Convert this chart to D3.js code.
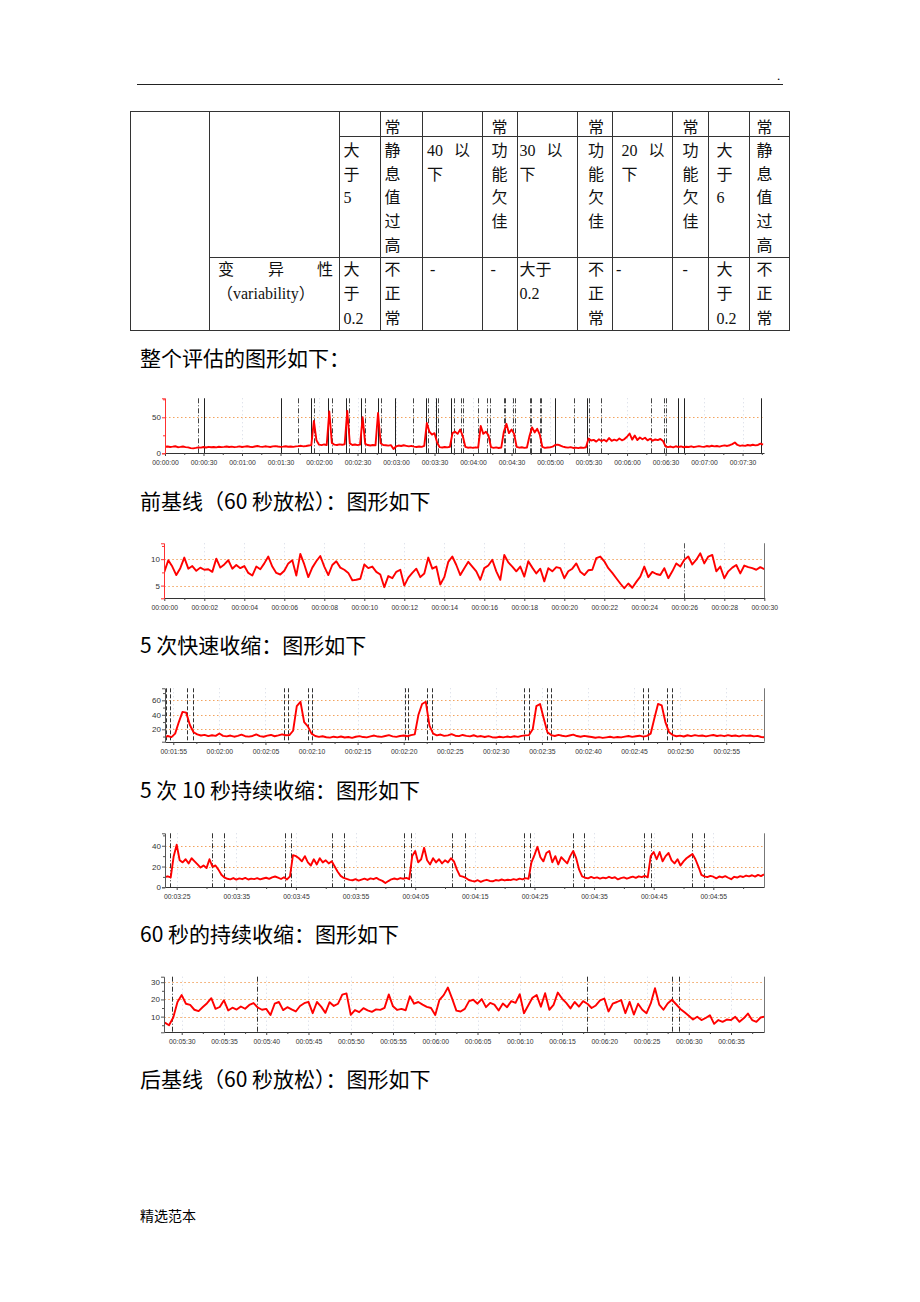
<!DOCTYPE html>
<html><head><meta charset="utf-8">
<script src="https://cdn.jsdelivr.net/npm/d3@7"></script>
<style>html,body{margin:0;padding:0;background:#fff}svg{display:block}</style>
</head><body>
<svg id="page" width="920" height="1302"></svg>
<script>
// ===================== DATA =====================
// Table content
const row1Cells = [[3,["常"]],[5,["常"]],[7,["常"]],[9,["常"]],[11,["常"]]];
const row2Cells = [[2,["大","于","5"]],[3,["静","息","值","过","高"]],[4,["40|以","下"]],[5,["功","能","欠","佳"]],
  [6,["30|以","下"]],[7,["功","能","欠","佳"]],[8,["20|以","下"]],[9,["功","能","欠","佳"]],[10,["大","于","6"]],[11,["静","息","值","过","高"]]];
const row3Cells = [[2,["大","于","0.2"]],[3,["不","正","常"]],[4,["-"]],[5,["-"]],[6,["大于","0.2"]],[7,["不","正","常"]],
  [8,["-"]],[9,["-"]],[10,["大","于","0.2"]],[11,["不","正","常"]]];
const headings = ["整个评估的图形如下：","前基线（60 秒放松）：图形如下","5 次快速收缩：图形如下","5 次 10 秒持续收缩：图形如下","60 秒的持续收缩：图形如下","后基线（60 秒放松）：图形如下"];

// Chart 1: whole assessment (seconds from 0, every 2 s)
const wholeStart = 0, wholeStep = 2;
const wholeValues = [
 9,9.5,8.8,9.2,9.8,8.5,8.9,9.4,8.6,8.2,
 7.2,6.8,7.5,8.3,7.9,8.8,8.1,9.0,8.4,8.7,
 8.2,9.1,8.6,8.9,9.4,8.7,9.2,8.5,9.0,9.6,
 8.8,9.3,9.8,9.1,8.6,9.5,10.1,9.2,8.9,9.7,
 9.3,8.8,9.6,10.0,9.4,8.9,9.2,9.8,9.1,9.5,
 9.0,9.6,9.9,10.4,9.7,10.2,10.8,11.3,45,18,
 12.0,11.4,12.3,11.6,58,14.5,12.0,11.5,12.4,11.8,
 12.6,59,13.8,11.6,12.2,11.4,12.0,50,13.2,11.5,
 10.8,11.6,11.0,56,14.0,11.5,11.2,10.6,11.4,6.0,
 9.5,10.8,10.1,11.2,10.4,9.6,10.3,9.2,8.7,9.4,
 9.0,10.2,42,30,26,28,15,8.5,8.0,8.8,
 8.3,9.1,28,30,27,33,24,9.0,7.8,8.2,
 7.5,8.3,7.9,38,27,30,25,8.5,7.6,8.2,
 7.4,8.0,30,41,28,33,27,9.0,7.8,8.4,
 7.6,8.1,24,36,29,34,26,8.8,7.5,8.0,
 8.3,9.2,11.5,12.0,10.8,9.3,8.4,7.9,8.6,7.4,
 7.9,7.2,8.1,7.6,8.4,20.5,17.8,18.6,16.2,19.4,
 17.0,18.8,16.5,21.2,17.4,18.9,17.6,20.5,18.1,19.8,
 23.0,27.5,19.0,24.6,18.4,22.0,19.5,21.6,18.0,20.2,
 17.5,19.2,18.3,20.0,17.2,9.5,8.6,9.4,8.2,9.8,
 8.7,9.5,8.4,9.1,8.8,9.7,8.5,9.3,10.0,9.2,
 8.9,10.1,9.4,10.5,9.6,10.2,9.3,10.4,11.0,10.2,
 11.2,12.8,15.0,11.6,10.4,11.0,10.3,11.5,10.8,11.9,
 11.0,11.6,13.5,12.0];
const wholeTickSeconds = [0,30,60,90,120,150,180,210,240,270,300,330,360,390,420,450];
const wholeYLabels = [0,50];
const wholeSolidMarks = [30,90,114,127,141,153,166,179,203,211,223,304,329,400,404,464];
const wholeDashMarks = [26,104,116,130,143,156,168,193,205,213,225,231,232,244,251,253,264,265,271,273,284,285,292,293,319,330,340,379,389,390];

// Chart 2: pre-baseline (every 0.2 s)
const preStart = 0, preStep = 0.2;
const preValues = [
 7.6,9.8,8.6,7.0,8.3,10.3,8.2,8.7,7.8,8.4,8.0,
 8.1,7.6,10.1,8.4,9.0,9.8,8.2,8.9,8.3,8.7,
 7.4,6.9,8.6,8.1,9.2,10.5,8.6,7.4,7.1,7.8,
 9.2,9.8,6.9,11.0,9.0,6.6,8.4,9.6,10.6,8.6,
 7.0,8.9,9.6,8.4,8.0,7.4,6.0,6.1,6.3,9.0,
 8.3,8.6,7.6,7.1,4.7,6.8,6.4,7.6,8.0,5.0,
 6.5,7.4,8.2,6.6,7.3,10.3,8.2,8.6,5.2,6.6,
 9.5,10.5,8.9,7.0,8.3,9.5,8.6,7.7,6.1,8.3,
 8.8,9.9,7.7,6.1,10.8,9.4,8.6,7.7,8.6,6.7,
 9.6,8.4,7.3,8.2,5.8,8.3,7.7,8.5,8.3,6.4,
 7.7,8.2,9.2,7.6,7.0,7.9,8.0,10.2,10.5,9.6,
 8.3,7.4,6.4,5.4,4.5,5.4,4.6,5.7,6.7,8.6,
 6.6,7.6,7.2,7.0,8.3,6.4,7.7,9.2,8.6,9.9,
 10.5,9.0,9.9,11.1,9.2,10.5,10.8,7.7,8.6,6.4,
 7.7,8.4,8.9,7.3,8.8,8.5,8.3,8.0,8.5,8.1];
const preTickSeconds = [0,2,4,6,8,10,12,14,16,18,20,22,24,26,28,30];
const preYLabels = [5,10];
const preDashMarks = [26];

// Chart 3: 5 quick contractions (from 114 s, every 0.4 s)
const quickStart = 114, quickStep = 0.4;
const quickValues = [
 8.5,10.8,9.2,14,30,44,43,26,16,13,
 11.5,12.3,10.6,11.8,10.9,14.2,11.0,10.2,11.4,9.8,
 10.9,12.6,10.5,9.9,10.8,12.9,10.6,9.7,11.3,12.2,
 10.4,11.6,13.1,11.8,12.0,18,52,58,30,24,
 14,10.8,9.6,10.4,9.1,8.5,9.8,8.9,10.1,8.7,
 9.4,8.2,9.7,10.6,9.3,8.8,10.2,11.4,10.0,9.5,
 10.7,11.9,10.3,9.6,10.8,11.5,10.4,12.0,13,40,
 55,58,25,14,11.7,12.8,10.9,11.6,13.4,11.2,
 10.6,12.2,11.0,10.3,11.8,9.9,10.7,9.4,10.5,9.1,
 8.6,9.8,8.9,10.0,9.2,10.4,9.6,10.9,11.6,12,
 20,52,55,35,16,12,10.8,12.3,11.1,10.2,
 11.5,12.6,10.7,9.8,11.0,10.1,9.3,8.4,9.2,8.1,
 8.9,9.7,8.6,9.4,8.8,9.9,10.8,9.6,10.5,11.2,
 9.9,11.0,14,35,55,53,30,16,12,10.4,
 11.2,10.1,11.8,10.6,12.0,10.9,11.5,10.2,11.3,12.1,
 10.8,11.6,10.5,11.9,10.7,11.4,10.3,11.7,10.9,11.5,
 10.2,11.0,9.4,8.8];
const quickTickSeconds = [115,120,125,130,135,140,145,150,155,160,165,170,175];
const quickYLabels = [20,40,60];
const quickDashMarks = [114.2,114.6,116.5,117.1,127.0,127.5,129.6,130.0,140.1,140.5,142.5,143.1,153.1,153.6,155.6,156.0,166.0,166.5,168.6,169.1];

// Chart 4: 5 x 10 s sustained contractions (from 203 s, every 0.5 s)
const tenStart = 203, tenStep = 0.5;
const tenValues = [
 9.8,10.6,9.5,30,41,26,24,27,23,28,
 25,22,19,21,18.5,27,20,21,17,12,
 9.5,8.2,7.6,8.9,7.4,8.6,7.8,9.0,7.5,8.4,
 7.9,8.8,7.6,8.5,9.2,8.1,9.6,10.4,9.3,8.0,
 9.7,7.6,10.5,31,30,28,25,30,24,21,
 27,22,28,24,26,23,25,20,15,11,
 9.0,8.1,7.2,6.8,7.9,6.5,7.4,8.3,7.1,8.6,
 7.8,9.1,7.3,6.2,4.1,6.0,7.7,8.5,7.6,8.9,
 8.2,9.0,7.8,30,35,24,27,38,26,22,
 28,24,27,23,26,24,28,25,17,11,
 10.2,9.0,7.0,6.2,5.6,6.8,5.3,6.5,7.2,6.1,
 5.8,7.0,6.4,7.5,6.6,7.3,6.9,7.8,7.1,8.4,
 7.6,8.8,8.1,24,31,39,29,25,33,35,
 24,30,22,29,26,23,30,35,28,17,
 10.5,9.2,8.6,10.0,8.8,9.6,8.4,9.3,8.7,10.1,
 8.9,9.7,7.6,8.8,9.5,8.3,9.4,10.2,9.1,10.6,
 9.8,11.0,9.6,30,34,27,34,25,30,33,
 26,23,27,21,25,28,30,32,27,20,
 12,10.5,9.8,11.0,10.2,8.6,10.4,9.5,10.8,9.2,
 7.8,10.1,9.4,10.7,9.9,11.3,10.5,11.6,10.3,12.0,
 10.8,12.4];
const tenTickSeconds = [205,215,225,235,245,255,265,275,285,295];
const tenYLabels = [0,20,40];
const tenDashMarks = [203.9,211.0,212.9,223.1,224.1,231.1,233.1,243.2,244.3,251.2,253.4,263.3,264.3,271.4,273.3,283.4,284.5,291.5,293.5];

// Chart 5: 60 s sustained contraction (from 328 s, every 0.5 s)
const sixtyStart = 328, sixtyStep = 0.5;
const sixtyValues = [
 6.5,5.0,9.5,18.5,22.5,17.5,16.8,14.0,13.2,15.6,
 17.8,20.7,14.5,15.6,19.5,13.6,15.2,14.1,15.9,14.6,
 16.8,17.9,15.3,14.0,14.5,10.9,17.5,18.5,13.8,15.5,
 14.2,13.0,16.2,17.8,18.6,12.0,18.5,15.8,12.2,18.4,
 16.2,17.5,22.8,23.5,11.0,13.8,12.6,14.9,13.6,12.8,
 14.2,13.9,15.1,22.9,16.0,13.9,14.5,13.7,21.8,17.5,
 18.5,17.0,15.7,15.0,11.0,19.8,22.5,26.9,20.5,13.5,
 13.0,14.5,19.0,19.8,17.5,20.2,15.5,18.0,17.0,13.6,
 17.6,15.5,19.0,18.0,23.0,12.0,16.5,21.0,22.5,15.8,
 23.6,14.0,16.8,24.0,20.5,18.0,14.8,18.5,15.8,19.0,
 17.5,15.0,16.5,19.5,20.5,13.0,17.5,18.5,19.6,12.0,
 18.6,11.2,17.5,14.0,12.0,17.7,26.5,17.0,14.0,17.6,
 19.8,17.2,14.5,12.5,10.5,8.3,9.9,8.0,9.2,10.8,
 5.8,8.0,7.0,8.3,8.0,9.9,7.0,9.0,11.8,8.0,
 7.0,9.5,10.0];
const sixtyTickSeconds = [330,335,340,345,350,355,360,365,370,375,380,385,390,395];
const sixtyYLabels = [10,20,30];
const sixtyDashMarks = [328.9,338.9,377.9,388.0,388.9];

// ===================== DRAW =====================
const svg = d3.select("#page");
const CJK = "'Noto Sans CJK SC','Noto Sans',sans-serif";
const SERIF = "'Liberation Serif','Noto Sans CJK SC',serif";

// page header
svg.append("line").attr("x1",137).attr("x2",783).attr("y1",84.5).attr("y2",84.5).attr("stroke","#222").attr("stroke-width",1);
svg.append("text").attr("x",777).attr("y",80).attr("font-size",13).attr("font-family",SERIF).text(".");

// ---- table ----
const colEdges = [130,209,339,380,422,482,517,577,612,672,708,749,789];
const colTextX = {2:343.5,3:384.5,4:427,5:491.5,6:519.5,7:588,8:621.5,9:682.5,10:716.5,11:756.5};
const dashX = {4:430,5:490.5,8:616,9:682.5};
const tbl = svg.append("g").attr("stroke","#333").attr("stroke-width",1);
[[130,789,111.5],[339,789,136.5],[209,789,257.5],[130,789,330.5]].forEach(([a,b,y])=>
  tbl.append("line").attr("x1",a).attr("x2",b).attr("y1",y).attr("y2",y));
colEdges.forEach(x=>tbl.append("line").attr("x1",x+.5).attr("x2",x+.5).attr("y1",111).attr("y2",331));
const tt = svg.append("g").attr("font-family",SERIF).attr("font-size",16).attr("fill","#111");
function putCells(cells, baselines){
  cells.forEach(([ci, lines])=>{
    lines.forEach((ln,k)=>{
      const y = baselines[k];
      if (ln === "-") { tt.append("text").attr("x",dashX[ci]).attr("y",y).text("-"); return; }
      if (ln.includes("|")) {
        const [a,b] = ln.split("|");
        tt.append("text").attr("x",colTextX[ci]).attr("y",y).text(a);
        tt.append("text").attr("x",colTextX[ci]+27).attr("y",y).text(b);
        return;
      }
      tt.append("text").attr("x",colTextX[ci]).attr("y",y).text(ln);
    });
  });
}
putCells(row1Cells,[132.8]);
putCells(row2Cells,[156.1,179.7,203.3,226.9,250.5]);
putCells(row3Cells,[274.6,299,323.6]);
tt.append("text").attr("x",218).attr("y",274.6).text("变");
tt.append("text").attr("x",268).attr("y",274.6).text("异");
tt.append("text").attr("x",317).attr("y",274.6).text("性");
tt.append("text").attr("x",217).attr("y",299).text("（variability）");

// headings
const headingBase = [366,509,653,798,942,1087];
headings.forEach((h,i)=>svg.append("text").attr("x",140).attr("y",headingBase[i]).attr("font-family",CJK).attr("font-size",21).attr("fill","#000").text(h));
svg.append("text").attr("x",140).attr("y",1221).attr("font-family",CJK).attr("font-size",14).attr("fill","#000").text("精选范本");

function fmt(s){ const m=Math.floor(s/60+1e-9), ss=Math.round(s-m*60); return "00:"+String(m).padStart(2,"0")+":"+String(ss).padStart(2,"0"); }

function drawChart(c){
  const x = d3.scaleLinear().domain(c.tDomain).range([c.x0,c.x1]);
  const y = d3.scaleLinear().domain(c.vDomain).range([c.yBot,c.yTop]);
  const px = v => Math.round(x(v))+0.5, py = v => Math.round(y(v))+0.5;
  const g = svg.append("g");
  // faint vertical grid
  g.append("g").selectAll("line").data(c.xLabels).join("line")
    .attr("x1",px).attr("x2",px).attr("y1",c.yTop).attr("y2",c.yBot)
    .attr("stroke","#d3d8e4").attr("stroke-dasharray","1,3");
  // orange dotted horizontal lines
  g.append("g").selectAll("line").data(c.hGrid).join("line")
    .attr("x1",c.x0).attr("x2",c.x1).attr("y1",py).attr("y2",py)
    .attr("stroke","#f2a35e").attr("stroke-dasharray","1.5,2.5");
  // event markers
  c.markers.forEach(m=>{
    g.append("g").selectAll("line").data(m.times).join("line")
      .attr("x1",px).attr("x2",px).attr("y1",c.yTop).attr("y2",c.yBot)
      .attr("stroke",m.color).attr("stroke-width",1).attr("stroke-dasharray",m.dash);
  });
  if (c.rightBorder) g.append("line").attr("x1",Math.round(c.x1)+.5).attr("x2",Math.round(c.x1)+.5)
      .attr("y1",c.yTop).attr("y2",c.yBot).attr("stroke","#777");
  // signal
  const clipId = "clip"+c.id;
  svg.append("clipPath").attr("id",clipId).append("rect")
    .attr("x",c.x0).attr("y",c.yTop-2).attr("width",c.x1-c.x0).attr("height",c.yBot-c.yTop+2);
  const line = d3.line().x((d,i)=>x(c.t0+i*c.step)).y(d=>y(d));
  g.append("path").datum(c.values).attr("d",line).attr("fill","none")
    .attr("stroke","#ff0000").attr("stroke-width",1.9).attr("stroke-linejoin","round")
    .attr("clip-path",`url(#${clipId})`);
  // x axis
  const xa = g.append("g").attr("transform",`translate(0,${Math.round(c.yBot)})`)
    .call(d3.axisBottom(x).tickValues(c.xLabels).tickFormat(fmt).tickSize(3).tickSizeOuter(0).tickPadding(3));
  const xm = g.append("g").attr("transform",`translate(0,${Math.round(c.yBot)})`)
    .call(d3.axisBottom(x).tickValues(c.xMinor).tickFormat("").tickSize(2).tickSizeOuter(0));
  xm.select(".domain").remove();
  [xa,xm].forEach(a=>{ a.selectAll("line").attr("stroke","#444"); });
  xa.select(".domain").attr("stroke","#333");
  xa.selectAll("text").attr("font-family","'Liberation Sans',Arial,sans-serif").attr("font-size",8)
    .attr("fill","#333").attr("textLength",26.5).attr("lengthAdjust","spacingAndGlyphs");
  // y axis
  const ya = g.append("g").attr("transform",`translate(${Math.round(c.x0)},0)`)
    .call(d3.axisLeft(y).tickValues(c.yLabels).tickSize(3).tickSizeOuter(3).tickPadding(1));
  const ym = g.append("g").attr("transform",`translate(${Math.round(c.x0)},0)`)
    .call(d3.axisLeft(y).tickValues(c.yMinor).tickFormat("").tickSize(2).tickSizeOuter(0));
  ym.select(".domain").remove();
  ya.select(".domain").attr("stroke",c.yColor);
  [ya,ym].forEach(a=>a.selectAll("line").attr("stroke",c.yColor));
  ya.selectAll("text").attr("font-family","'Liberation Sans',Arial,sans-serif").attr("font-size",8).attr("fill","#333");
}

drawChart({id:1, x0:165, x1:764, tDomain:[0,466.7], yTop:398.3, yBot:453.3, vDomain:[0,76.4],
  t0:wholeStart, step:wholeStep, values:wholeValues, xLabels:wholeTickSeconds, xMinor:d3.range(15,466,30),
  yLabels:wholeYLabels, yMinor:[25,75], hGrid:[50], yColor:"#ff3030", rightBorder:false,
  markers:[{times:wholeDashMarks,color:"#444",dash:"5,2,1,2"},{times:wholeSolidMarks,color:"#222",dash:null}]});
drawChart({id:2, x0:164.3, x1:764.3, tDomain:[0,30], yTop:543.3, yBot:598.3, vDomain:[2.6,13.0],
  t0:preStart, step:preStep, values:preValues, xLabels:preTickSeconds, xMinor:d3.range(1,30,2),
  yLabels:preYLabels, yMinor:[7.5,12.5], hGrid:[5,10], yColor:"#ff3030", rightBorder:true,
  markers:[{times:preDashMarks,color:"#555",dash:"5,2,1,2"}]});
drawChart({id:3, x0:165, x1:764, tDomain:[114.1,179.1], yTop:688.3, yBot:741.7, vDomain:[2.9,76.6],
  t0:quickStart, step:quickStep, values:quickValues, xLabels:quickTickSeconds, xMinor:d3.range(117.5,179,5),
  yLabels:quickYLabels, yMinor:[10,30,50,70], hGrid:[20,40,60], yColor:"#555", rightBorder:true,
  markers:[{times:quickDashMarks,color:"#333",dash:"4,2"}]});
drawChart({id:4, x0:165, x1:764, tDomain:[203.04,303.5], yTop:833.3, yBot:887.3, vDomain:[0,52],
  t0:tenStart, step:tenStep, values:tenValues, xLabels:tenTickSeconds, xMinor:d3.range(210,303,10),
  yLabels:tenYLabels, yMinor:[10,30,50], hGrid:[20,40], yColor:"#555", rightBorder:true,
  markers:[{times:tenDashMarks,color:"#333",dash:"5,2,1,2"}]});
drawChart({id:5, x0:164.3, x1:764, tDomain:[327.94,398.9], yTop:976.7, yBot:1032.3, vDomain:[0.9,33.2],
  t0:sixtyStart, step:sixtyStep, values:sixtyValues, xLabels:sixtyTickSeconds, xMinor:d3.range(332.5,398,5),
  yLabels:sixtyYLabels, yMinor:[5,15,25], hGrid:[10,20,30], yColor:"#555", rightBorder:true,
  markers:[{times:sixtyDashMarks,color:"#333",dash:"5,2,1,2"}]});
</script>
</body></html>
